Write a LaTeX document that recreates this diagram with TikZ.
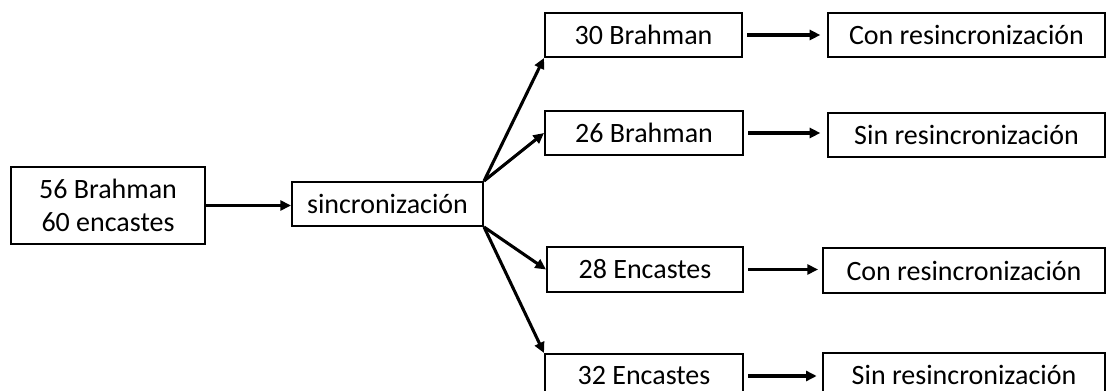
\documentclass[tikz,border=0pt]{standalone}
\usepackage{fontspec}
\setmainfont{Carlito}
\usetikzlibrary{arrows.meta}
\begin{document}
\begin{tikzpicture}[x=0.75pt,y=-0.75pt,
  box/.style={draw,line width=1.5pt,rectangle,inner sep=0pt,align=center,
    font=\fontsize{21}{25}\selectfont},
  conn/.style={line width=2.3pt,-{Triangle[length=8pt,width=7.5pt]}}]
\clip (0,0) rectangle (1106,391);
\useasboundingbox (0,0) rectangle (1106,391);
% source and synchronisation step
\node[box,minimum width=194*0.75pt,minimum height=77*0.75pt] (A) at (108,205.5) {56 Brahman\\60 encastes};
\node[box,minimum width=191*0.75pt,minimum height=44*0.75pt] (S) at (387.5,204) {sincronización};
% groups
\node[box,minimum width=197*0.75pt,minimum height=44*0.75pt] (B30) at (643.5,35) {30 Brahman};
\node[box,minimum width=198*0.75pt,minimum height=44*0.75pt] (B26) at (644,133) {26 Brahman};
\node[box,minimum width=196*0.75pt,minimum height=45*0.75pt] (E28) at (645,269.5) {28 Encastes};
\node[box,minimum width=198*0.75pt,minimum height=44*0.75pt] (E32) at (644,376) {32 Encastes};
% treatments
\node[box,minimum width=277*0.75pt,minimum height=44*0.75pt] (C1) at (966.5,35) {Con resincronización};
\node[box,minimum width=277*0.75pt,minimum height=44*0.75pt] (S1) at (966.5,135) {Sin resincronización};
\node[box,minimum width=282*0.75pt,minimum height=45*0.75pt] (C2) at (964,270.5) {Con resincronización};
\node[box,minimum width=282*0.75pt,minimum height=44*0.75pt] (S2) at (964,375) {Sin resincronización};
% connectors
\draw[conn] (A.east) -- (A.east -| S.west);
\draw[conn] (S.north east) -- (B30.south west);
\draw[conn] (S.north east) -- (B26.west);
\draw[conn] (S.south east) -- (E28.west);
\draw[conn] (S.south east) -- (E32.north west);
\draw[conn,shorten <=3pt,shorten >=5pt] (B30.east) -- (B30.east -| C1.west);
\draw[conn,shorten <=3pt,shorten >=5pt] (B26.east) -- (B26.east -| S1.west);
\draw[conn,shorten <=3pt,shorten >=3pt] (E28.east) -- (E28.east -| C2.west);
\draw[conn,shorten <=3pt,shorten >=4pt] (E32.east) -- (E32.east -| S2.west);
\end{tikzpicture}
\end{document}
